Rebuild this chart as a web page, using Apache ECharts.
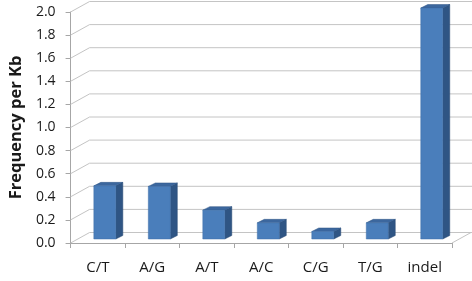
<!DOCTYPE html>
<html>
<head>
<meta charset="utf-8">
<script src="https://cdn.jsdelivr.net/npm/echarts@6/dist/echarts.min.js"></script>
<style>
  html, body { margin: 0; padding: 0; background: #fff; }
  #container { width: 472px; height: 281px; }
</style>
</head>
<body>
<div id="container"></div>
<script>
var categories = ['C/T', 'A/G', 'A/T', 'A/C', 'C/G', 'T/G', 'indel'];
var frequency = [0.46, 0.455, 0.25, 0.14, 0.065, 0.14, 2.0];
var yTicks = [0, 0.2, 0.4, 0.6, 0.8, 1.0, 1.2, 1.4, 1.6, 1.8, 2.0];

// 3D look: back wall offset and bar depth
var WALL_DX = 19, WALL_DY = -10.5;
var BAR_DX = 7, BAR_DY = -4, BAR_W = 22, DEPTH_DX = 7, DEPTH_DY = -3.5;

var dom = document.getElementById('container');
var myChart = echarts.init(dom);

var frameData = yTicks.map(function (v) { return [0, v]; });
var barData = frequency.map(function (v, i) { return [i, v]; });

function renderFrame(params, api) {
    var cs = params.coordSys;
    var v = api.value(1);
    var p = api.coord([0, v]);
    var x0 = cs.x, y = p[1];
    var lineStyle = { stroke: '#c4c4c4', lineWidth: 1, fill: null };
    var children = [{
        type: 'polyline',
        shape: { points: [[x0, y], [x0 + WALL_DX, y + WALL_DY], [cs.x + cs.width + 20, y + WALL_DY]] },
        style: lineStyle,
        silent: true
    }];
    if (v === 0) {
        children.push({
            type: 'line',
            shape: { x1: cs.x + cs.width, y1: y, x2: cs.x + cs.width + WALL_DX, y2: y + WALL_DY },
            style: { stroke: '#c4c4c4', lineWidth: 1 },
            silent: true
        });
    }
    return { type: 'group', children: children };
}

function renderBar(params, api) {
    var i = api.value(0);
    var base = api.coord([i, 0]);
    var top = api.coord([i, api.value(1)]);
    var xl = base[0] + BAR_DX - BAR_W / 2;
    var xr = xl + BAR_W;
    var yb = base[1] + BAR_DY;
    var yt = top[1] + BAR_DY;
    return {
        type: 'group',
        children: [
            {
                type: 'polygon',
                shape: { points: [[xr, yt], [xr + DEPTH_DX, yt + DEPTH_DY], [xr + DEPTH_DX, yb + DEPTH_DY], [xr, yb]] },
                style: { fill: '#2f5584', stroke: '#2a4b75', lineWidth: 0.5 }
            },
            {
                type: 'polygon',
                shape: { points: [[xl, yt], [xl + DEPTH_DX, yt + DEPTH_DY], [xr + DEPTH_DX, yt + DEPTH_DY], [xr, yt]] },
                style: { fill: '#3c679e', stroke: '#2f5584', lineWidth: 0.5 }
            },
            {
                type: 'rect',
                shape: { x: xl, y: yt, width: BAR_W, height: yb - yt },
                style: { fill: '#4a7ebb', stroke: '#3f6fa8', lineWidth: 0.5 }
            }
        ]
    };
}

var option = {
    backgroundColor: '#FFFFFF',
    animation: false,
    grid: { left: 68, right: 20, top: 12, bottom: 38 },
    xAxis: {
        type: 'category',
        data: categories,
        axisLine: { lineStyle: { color: '#a6a6a6' } },
        axisTick: { show: true, interval: 0, length: 5, lineStyle: { color: '#a6a6a6' } },
        axisLabel: { fontFamily: 'Open Sans', fontSize: 15, color: '#1a1a1a', margin: 17 }
    },
    yAxis: {
        type: 'value',
        min: 0,
        max: 2,
        interval: 0.2,
        name: 'Frequency per Kb',
        nameLocation: 'middle',
        nameGap: 45,
        nameTextStyle: { fontFamily: 'Open Sans', fontSize: 16.5, fontWeight: 'bold', color: '#1a1a1a' },
        axisLine: { show: true, lineStyle: { color: '#a6a6a6' } },
        axisTick: { show: true, length: 5, lineStyle: { color: '#a6a6a6' } },
        splitLine: { show: false },
        axisLabel: {
            fontFamily: 'Open Sans', fontSize: 14, color: '#1a1a1a', margin: 15,
            formatter: function (v) { return v.toFixed(1); }
        }
    },
    series: [
        { type: 'custom', name: 'frame', data: frameData, renderItem: renderFrame, clip: false, silent: true, z: 1 },
        { type: 'custom', name: 'Frequency', data: barData, renderItem: renderBar, clip: false, z: 2 }
    ]
};

myChart.setOption(option);
window.onresize = function () { myChart.resize(); };
</script>
</body>
</html>
